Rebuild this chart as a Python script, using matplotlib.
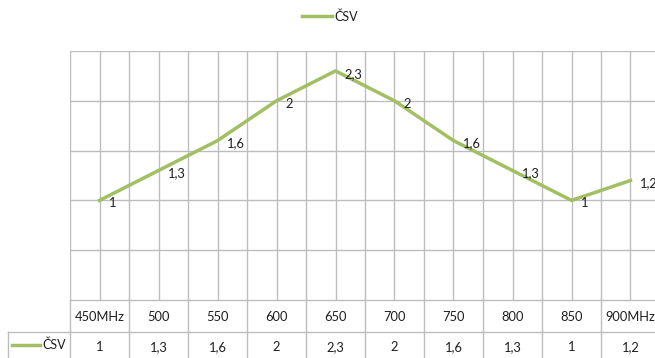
import matplotlib
matplotlib.use("Agg")
import matplotlib.pyplot as plt
from matplotlib.transforms import blended_transform_factory
from matplotlib.lines import Line2D

plt.rcParams['font.family'] = ['Lato', 'DejaVu Sans']

categories = ["450MHz", "500", "550", "600", "650", "700", "750", "800", "850", "900MHz"]
csv_values = [1.0, 1.3, 1.6, 2.0, 2.3, 2.0, 1.6, 1.3, 1.0, 1.2]
series_name = "ČSV"

W, H = 655, 358
line_color = "#a3bf64"
grid_color = "#bdbdbd"
text_color = "#1e1e1e"


def fmt(v):
    s = f"{v:g}"
    return s.replace(".", ",")


fig = plt.figure(figsize=(W / 100, H / 100), dpi=100)
fig.patch.set_facecolor("white")

# plot area (extends slightly past the right edge of the canvas)
ax = fig.add_axes([70 / W, 58 / H, 590 / W, 249 / H])
n = len(categories)
xs = list(range(n))
ax.set_xlim(-0.5, n - 0.5)
ax.set_ylim(0, 2.5)
ax.set_xticks([])
ax.set_yticks([])
for s in ax.spines.values():
    s.set_visible(False)

# grid: horizontal every 0.5, vertical at category centres and boundaries
for yv in [0.5, 1.0, 1.5, 2.0, 2.5]:
    ax.axhline(yv, color=grid_color, lw=1.0, zorder=1)
k = -0.5
while k <= n - 0.5 + 1e-9:
    ax.axvline(k, color=grid_color, lw=1.0, zorder=1)
    k += 0.5

ax.plot(xs, csv_values, color=line_color, lw=2.5, solid_joinstyle="round",
        zorder=3, clip_on=False)

for x, v in zip(xs, csv_values):
    ax.annotate(fmt(v), (x, v), xytext=(9, -3), textcoords="offset pixels",
                ha="left", va="center", fontsize=9.3, color=text_color,
                zorder=4, annotation_clip=False)

# legend at the top
fig.add_artist(Line2D([302 / W, 332 / W], [1 - 16 / H, 1 - 16 / H],
                      transform=fig.transFigure, color=line_color, lw=2.5))
fig.text(334 / W, 1 - 17 / H, series_name, ha="left", va="center",
         fontsize=9, color=text_color)

# data table under the plot
tr = blended_transform_factory(ax.transData, fig.transFigure)
y_top = 58 / H
y_mid = 26 / H
y_bot = 0.0
fig.add_artist(Line2D([-0.5, n - 0.5], [y_top, y_top], transform=tr,
                      color=grid_color, lw=1.0))
fig.add_artist(Line2D([8 / W, 1.0], [y_mid, y_mid], transform=fig.transFigure,
                      color=grid_color, lw=1.0))
for b in range(n + 1):
    fig.add_artist(Line2D([b - 0.5, b - 0.5], [y_bot, y_top], transform=tr,
                          color=grid_color, lw=1.0))
fig.add_artist(Line2D([8 / W, 8 / W], [y_bot, y_mid], transform=fig.transFigure,
                      color=grid_color, lw=1.0))

for x, c, v in zip(xs, categories, csv_values):
    fig.text(x, 41 / H, c, transform=tr, ha="center", va="center",
             fontsize=9.3, color=text_color)
    fig.text(x, 11 / H, fmt(v), transform=tr, ha="center", va="center",
             fontsize=9.3, color=text_color)

# series key in the table's first column
fig.add_artist(Line2D([12 / W, 40 / W], [13 / H, 13 / H],
                      transform=fig.transFigure, color=line_color, lw=2.5))
fig.text(66 / W, 13 / H, series_name, ha="right", va="center",
         fontsize=9, color=text_color)

fig.savefig("out.png", dpi=100, facecolor="white")
